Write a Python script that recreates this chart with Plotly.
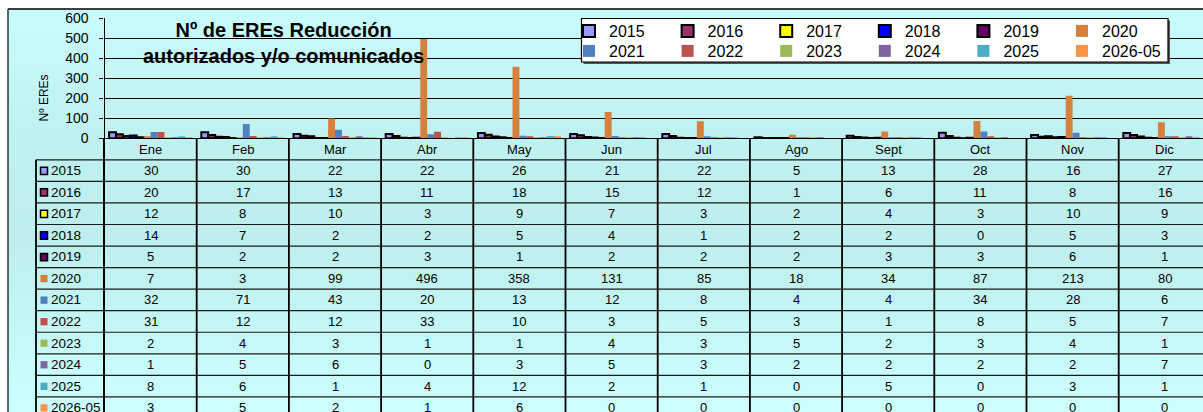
import plotly.graph_objects as go

W, H = 1203, 412
FONT = "Liberation Sans, Arial, sans-serif"

MONTHS = ["Ene", "Feb", "Mar", "Abr", "May", "Jun", "Jul", "Ago", "Sept", "Oct", "Nov", "Dic"]

v2015 = [30, 30, 22, 22, 26, 21, 22, 5, 13, 28, 16, 27]
v2016 = [20, 17, 13, 11, 18, 15, 12, 1, 6, 11, 8, 16]
v2017 = [12, 8, 10, 3, 9, 7, 3, 2, 4, 3, 10, 9]
v2018 = [14, 7, 2, 2, 5, 4, 1, 2, 2, 0, 5, 3]
v2019 = [5, 2, 2, 3, 1, 2, 2, 2, 3, 3, 6, 1]
v2020 = [7, 3, 99, 496, 358, 131, 85, 18, 34, 87, 213, 80]
v2021 = [32, 71, 43, 20, 13, 12, 8, 4, 4, 34, 28, 6]
v2022 = [31, 12, 12, 33, 10, 3, 5, 3, 1, 8, 5, 7]
v2023 = [2, 4, 3, 1, 1, 4, 3, 5, 2, 3, 4, 1]
v2024 = [1, 5, 6, 0, 3, 5, 3, 2, 2, 2, 2, 7]
v2025 = [8, 6, 1, 4, 12, 2, 1, 0, 5, 0, 3, 1]
v2026_05 = [3, 5, 2, 1, 6, 0, 0, 0, 0, 0, 0, 0]

SERIES = ["2015", "2016", "2017", "2018", "2019", "2020",
          "2021", "2022", "2023", "2024", "2025", "2026-05"]
VALUES = [v2015, v2016, v2017, v2018, v2019, v2020,
          v2021, v2022, v2023, v2024, v2025, v2026_05]
COLORS = ["#9999FF", "#993366", "#FFFF00", "#0000FF", "#660066", "#D5803C",
          "#4F81BD", "#C0504D", "#9BBB59", "#8064A2", "#4BACC6", "#F79646"]
OUTLINED = {"2015", "2016", "2017", "2018", "2019"}


def px_x(p):
    return p / W


def px_y(p):
    return 1 - p / H


# pixel geometry of the Excel-style chart
AXIS_X = 104.5
ZERO_Y = 138.3
TOP_Y = 18.3
ROW_H = 21.55
COL_W = 92.2

fig = go.Figure()

for i, (name, vals, color) in enumerate(zip(SERIES, VALUES, COLORS)):
    outlined = name in OUTLINED
    fig.add_trace(go.Bar(
        x=MONTHS, y=vals, name=name,
        legend="legend" if i < 6 else "legend2",
        marker=dict(color=color,
                    line=dict(color="black", width=2 if outlined else 0)),
        hoverinfo="skip",
    ))

shapes = []

# background gradient of the chart area
stops = [(9, (201, 252, 252)), (140, (192, 241, 241)), (240, (190, 238, 238)), (412, (204, 255, 255))]


def bg_color(y):
    for (y0, c0), (y1, c1) in zip(stops[:-1], stops[1:]):
        if y0 <= y <= y1:
            t = (y - y0) / (y1 - y0)
            return "rgb(%d,%d,%d)" % tuple(round(a + (b - a) * t) for a, b in zip(c0, c1))
    return "rgb(204,255,255)"


y = 9
while y < H:
    shapes.append(dict(type="rect", xref="paper", yref="paper", layer="below",
                       x0=px_x(8), x1=1, y0=px_y(min(y + 5, H)), y1=px_y(y),
                       fillcolor=bg_color(y + 2.5), line=dict(width=0)))
    y += 5

# chart area border (top and left)
shapes.append(dict(type="line", xref="paper", yref="paper", x0=px_x(8), x1=1,
                   y0=px_y(9), y1=px_y(9), line=dict(color="black", width=1.5)))
shapes.append(dict(type="line", xref="paper", yref="paper", x0=px_x(8), x1=px_x(8),
                   y0=0, y1=px_y(9), line=dict(color="#333333", width=1.5)))

# data table grid
n_rows = len(SERIES)
y2_bottom = -1.5 + (H - ZERO_Y) / ROW_H
for k in range(1, 12):
    shapes.append(dict(type="line", xref="x", yref="y2", x0=k - 0.5, x1=k - 0.5,
                       y0=-1.5, y1=y2_bottom, line=dict(color="black", width=1.8)))
for r in range(-1, n_rows - 1):
    shapes.append(dict(type="line", xref="paper", yref="y2", x0=px_x(36), x1=1,
                       y0=r + 0.5, y1=r + 0.5, line=dict(color="#1a1a1a", width=1.2)))
shapes.append(dict(type="line", xref="paper", yref="y2", x0=px_x(36), x1=px_x(36),
                   y0=-0.5, y1=y2_bottom, line=dict(color="black", width=1.8)))

# legend keys in the table
for r, (name, color) in enumerate(zip(SERIES, COLORS)):
    outlined = name in OUTLINED
    shapes.append(dict(type="rect", xref="paper", yref="y2",
                       x0=px_x(40.5), x1=px_x(47.5), y0=r - 0.16, y1=r + 0.18,
                       fillcolor=color,
                       line=dict(color="black", width=1.5 if outlined else 0)))

# legend box with a light drop shadow
shapes.append(dict(type="rect", xref="paper", yref="paper", layer="above",
                   x0=px_x(583.5), x1=px_x(1170), y0=px_y(64), y1=px_y(20.5),
                   fillcolor="#555555", line=dict(width=0)))
shapes.append(dict(type="rect", xref="paper", yref="paper", layer="above",
                   x0=px_x(581.5), x1=px_x(1168), y0=px_y(62), y1=px_y(18.5),
                   fillcolor="white", line=dict(color="black", width=1.2)))

annotations = []
for m in MONTHS:
    annotations.append(dict(x=m, y=-1, xref="x", yref="y2", text=m, showarrow=False,
                            font=dict(size=13, color="black")))
for r, (name, vals) in enumerate(zip(SERIES, VALUES)):
    annotations.append(dict(x=px_x(49), y=r, xref="paper", yref="y2", text=name,
                            showarrow=False, xanchor="left",
                            font=dict(size=13.5, color="black")))
    for m, v in zip(MONTHS, vals):
        annotations.append(dict(x=m, y=r, xref="x", yref="y2", text=str(v),
                                showarrow=False, font=dict(size=13, color="black")))

annotations.append(dict(x=px_x(283), y=px_y(43), xref="paper", yref="paper",
                        text="<b>Nº de EREs Reducción<br>autorizados y/o comunicados</b>",
                        showarrow=False, xanchor="center", yanchor="middle",
                        font=dict(size=20, color="black")))
annotations.append(dict(x=px_x(34), y=px_y(73), xref="paper", yref="paper",
                        text="Nº EREs", textangle=-90, showarrow=False,
                        font=dict(size=12, color="black")))

legend_common = dict(orientation="h", xanchor="left", yanchor="middle",
                     bgcolor="rgba(0,0,0,0)", font=dict(size=16),
                     entrywidth=53.6, entrywidthmode="pixels", traceorder="normal")

fig.update_layout(
    width=W, height=H,
    margin=dict(l=0, r=0, t=0, b=0, autoexpand=False),
    paper_bgcolor="white",
    plot_bgcolor="rgba(0,0,0,0)",
    font=dict(family=FONT, color="black"),
    barmode="group", bargap=0.1, bargroupgap=0,
    showlegend=True,
    legend=dict(x=px_x(569), y=px_y(31), **legend_common),
    legend2=dict(x=px_x(569), y=px_y(51), **legend_common),
    shapes=shapes,
    annotations=annotations,
    xaxis=dict(domain=[px_x(AXIS_X), 1], range=[-0.5, -0.5 + (W - AXIS_X) / COL_W],
               type="category", showticklabels=False, ticks="", showgrid=False,
               showline=True, linecolor="black", linewidth=1.2, zeroline=False),
    yaxis=dict(domain=[px_y(ZERO_Y), px_y(TOP_Y)], range=[0, 600], dtick=100,
               showgrid=True, gridcolor="black", gridwidth=1,
               showline=True, linecolor="black", linewidth=1.2,
               ticks="outside", ticklen=4, tickcolor="black",
               ticklabelstandoff=8,
               tickfont=dict(size=14), zeroline=False),
    yaxis2=dict(domain=[0, px_y(ZERO_Y)], range=[y2_bottom, -1.5], anchor="x",
                showticklabels=False, ticks="", showgrid=False, zeroline=False,
                showline=True, linecolor="black", linewidth=1.8),
)

fig.write_html("out.html", config={"displayModeBar": False},
               post_script="document.body.style.margin='0';document.body.style.overflow='hidden';")
